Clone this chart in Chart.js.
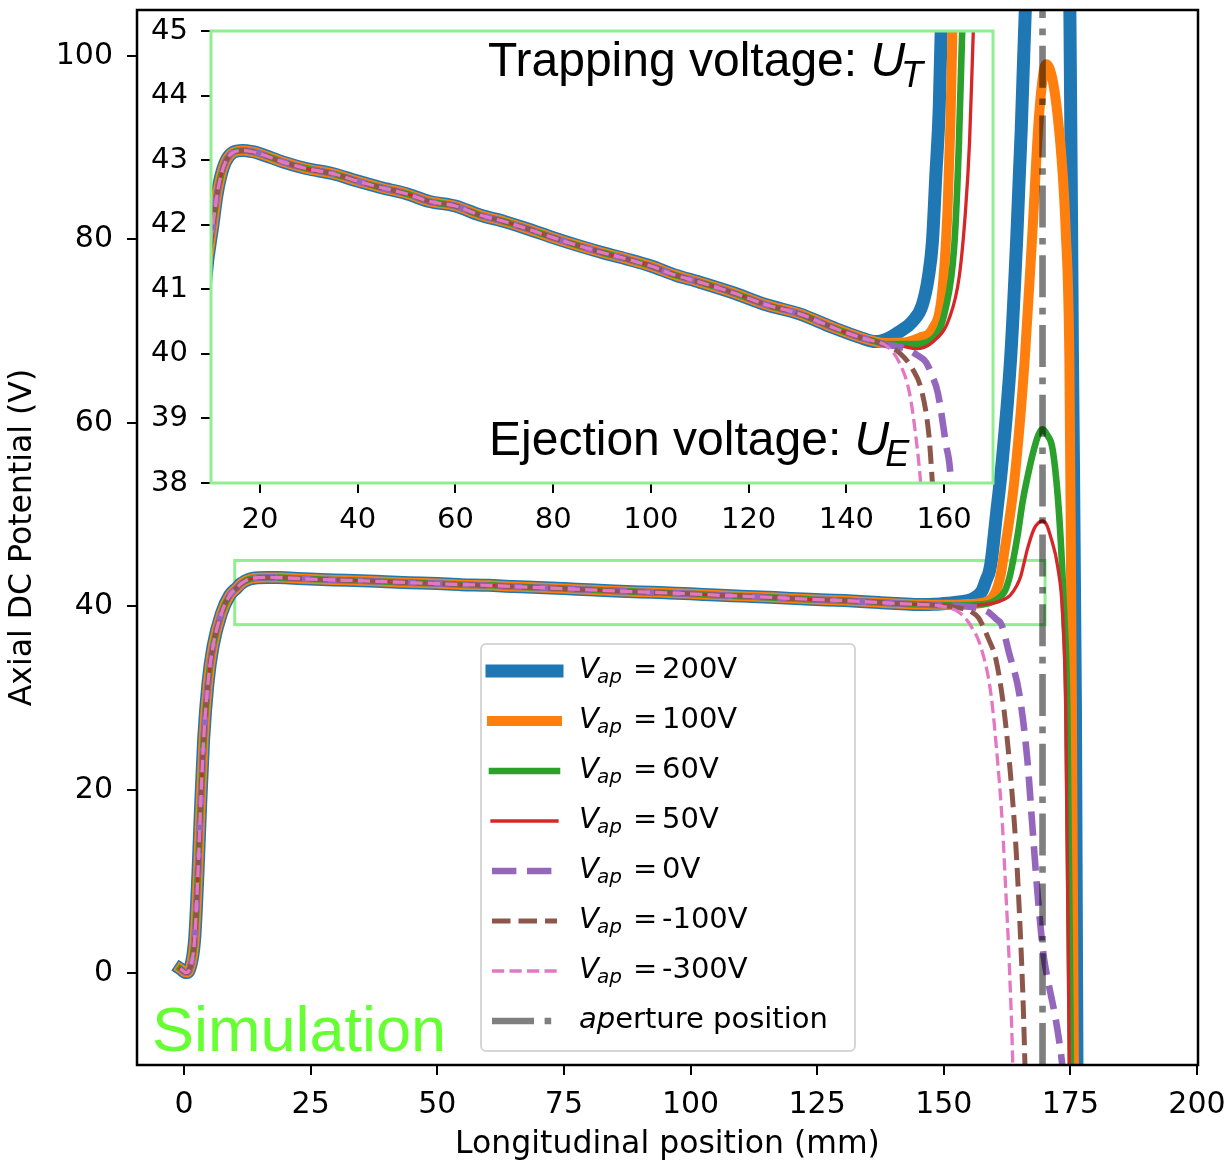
<!DOCTYPE html>
<html><head><meta charset="utf-8">
<script src="https://cdn.jsdelivr.net/npm/chart.js@4/dist/chart.umd.min.js"></script>
<style>
html,body{margin:0;padding:0;background:#fff;}
#wrap{position:relative;width:1231px;height:1166px;}
canvas{position:absolute;left:0;top:0;}
#inset{pointer-events:none;}
</style></head><body>
<div id="wrap"><canvas id="main" width="1231" height="1166"></canvas><canvas id="inset" width="1231" height="1166"></canvas></div>
<script>
// ---------------- data ----------------
const baseX = [-0.75, 0.43, 1.1, 2.08, 2.74, 3.26, 3.86, 4.71, 5.7, 7.35, 9.0, 10.4, 11.2, 12.0, 13.0, 14.5, 16.5, 18.5, 20, 24.8, 29.5, 35, 39.8, 44.5, 50, 54.7, 60, 65, 70, 75, 80, 85, 90, 95, 100, 105, 110, 116.7, 123.6, 130.4, 137.2, 142.6, 146];
const baseY = [0.5, 0.07, 0.45, 3.7, 10.96, 18.2, 25.5, 31.6, 35.6, 39.2, 41.2, 42.0, 42.45, 42.75, 42.98, 43.12, 43.15, 43.13, 43.1, 42.97, 42.87, 42.79, 42.68, 42.58, 42.48, 42.36, 42.29, 42.15, 42.05, 41.93, 41.8, 41.68, 41.57, 41.47, 41.36, 41.22, 41.11, 40.95, 40.76, 40.62, 40.41, 40.26, 40.19];

const tail200X = [148, 150.8, 153.5, 155.5, 156.8, 157.6, 158.3, 159.0, 159.4, 160.4, 161.4, 163.2, 164.4, 165.3, 166.1, 170.4, 174.9, 175.4, 176.0, 176.3, 176.5];
const tail200Y = [40.22, 40.34, 40.5, 40.75, 41.2, 41.73, 42.76, 43.8, 45.0, 50, 55, 67, 80, 92, 105, 150, 105, 68, 29, -10, -20];

const tail100X = [148, 152.2, 155, 157.6, 159.6, 160.7, 161.3, 161.7, 163.9, 166.0, 167.5, 168.8, 170.2, 172.5, 174.1, 174.8, 175.1, 175.3, 175.7, 175.8];
const tail100Y = [40.17, 40.18, 40.25, 40.38, 40.95, 42.24, 43.6, 45, 53.5, 67, 80.7, 93.4, 99.1, 93.4, 80.7, 67, 46, 29, -10, -15];

const tail60X = [148, 153.5, 157.6, 160.3, 162.1, 163.0, 163.7, 164.6, 165.6, 166.5, 167.8, 168.7, 169.5, 170.4, 171.5, 172.8, 173.8, 174.4, 175.1, 175.2];
const tail60Y = [40.15, 40.15, 40.23, 40.7, 41.7, 43.2, 45.0, 47.8, 51.5, 54.0, 57.1, 58.7, 59.3, 58.7, 57.1, 49.8, 38.9, 28.8, -10, -15];

const tail50X = [148, 150.8, 154.2, 157.6, 161, 163.1, 164.4, 165.2, 165.8, 166.5, 167.8, 168.7, 169.5, 170.3, 171.1, 172.5, 173.5, 174.1, 174.8, 174.9];
const tail50Y = [40.15, 40.13, 40.08, 40.18, 40.54, 41.2, 42.24, 43.28, 44.6, 46.2, 48.4, 49.1, 49.3, 48.9, 47.6, 44.3, 38.9, 28.7, -10, -15];

const tail0X = [148, 150, 152.2, 154.5, 156.3, 157.6, 158.7, 160.3, 161.4, 162.9, 164.9, 166.5, 167.5, 168.5, 169.3, 169.8, 170.5, 172.1, 173.1, 173.5];
const tail0Y = [40.14, 40.12, 40.08, 39.98, 39.87, 39.65, 39.4, 38.63, 38.0, 34.9, 30.5, 23.3, 16.0, 8.8, 4.0, 1.6, -0.6, -5.0, -8.6, -10.5];

const tailM100X = [148.5, 150.8, 153.5, 155.5, 156.9, 157.6, 158.8, 160.3, 161.9, 163.2, 164.2, 164.9, 165.6, 166.0, 166.1];
const tailM100Y = [40.12, 40.02, 39.77, 39.4, 38.73, 38.0, 36.5, 34.2, 28.7, 21.5, 14.2, 7.0, -2.1, -9.4, -12];

const tailM300X = [148.1, 150.8, 152.9, 154.2, 155.2, 157.3, 159.3, 160.6, 161.6, 162.2, 162.9, 163.6, 163.7];
const tailM300Y = [40.13, 39.87, 39.4, 38.73, 38.0, 35.6, 30.5, 23.3, 16.0, 9.5, 1.5, -9.4, -12];

const seriesLabels = ['200V', '100V', '60V', '50V', '0V', '-100V', '-300V'];
const apertureX = 169.5;
const apertureLabel = 'aperture position';

const xTicksMain = [0, 25, 50, 75, 100, 125, 150, 175, 200];
const yTicksMain = [0, 20, 40, 60, 80, 100];
const xTicksInset = [20, 40, 60, 80, 100, 120, 140, 160];
const yTicksInset = [38, 39, 40, 41, 42, 43, 44, 45];
const insetXRange = [10, 170];
const insetYRange = [38, 45];

// ---------------- styles ----------------
const styles = [
  {color: '#1f77b4', width: 13, dash: []},
  {color: '#ff7f0e', width: 10, dash: []},
  {color: '#2ca02c', width: 6.6, dash: []},
  {color: '#d62728', width: 3.3, dash: []},
  {color: '#9467bd', width: 6.6, dash: [24.4, 10.6]},
  {color: '#8c564b', width: 5, dash: [18.5, 8]},
  {color: '#e377c2', width: 3.3, dash: [12.2, 5.3]}
];
const apStyle = {color: 'rgba(0,0,0,0.5)', width: 6.6, dash: [42, 10.6, 6.6, 10.6]};
const FONT = "'DejaVu Sans'";
Chart.defaults.font.family = FONT;
Chart.defaults.color = '#000';

const tails = [[tail200X, tail200Y], [tail100X, tail100Y], [tail60X, tail60Y], [tail50X, tail50Y], [tail0X, tail0Y], [tailM100X, tailM100Y], [tailM300X, tailM300Y]];
function series(tx, ty) {
  const pts = baseX.map((x, i) => ({x: x, y: baseY[i]}));
  tx.forEach((x, i) => pts.push({x: x, y: ty[i]}));
  return pts;
}
function makeDatasets(withAperture) {
  const ds = tails.map((t, i) => ({
    label: seriesLabels[i],
    data: series(t[0], t[1]),
    borderColor: styles[i].color,
    borderWidth: styles[i].width,
    borderDash: styles[i].dash,
    borderCapStyle: styles[i].dash.length ? 'butt' : 'square',
    borderJoinStyle: 'round',
    pointRadius: 0,
    showLine: true,
    fill: false,
    cubicInterpolationMode: 'monotone',
    clip: 0,
    order: 10 - i
  }));
  if (withAperture) {
    ds.push({
      label: apertureLabel,
      data: [{x: apertureX, y: -10}, {x: apertureX, y: 105}],
      borderColor: apStyle.color, borderWidth: apStyle.width, borderDash: apStyle.dash,
      borderCapStyle: 'butt', pointRadius: 0, showLine: true, fill: false, tension: 0, clip: 0, order: 0
    });
  }
  return ds;
}

function noPad(s) { s.paddingTop = 0; s.paddingBottom = 0; s.paddingLeft = 0; s.paddingRight = 0; }
function axisCommon(ticksArr, fontSize, pad) {
  return {
    type: 'linear',
    afterBuildTicks: s => { s.ticks = ticksArr.map(v => ({value: v})); },
    grid: {display: true, drawOnChartArea: false, drawTicks: true, tickLength: 10, tickWidth: 2, lineWidth: 2, tickColor: '#000', color: '#000'},
    border: {display: false},
    ticks: {font: {size: fontSize}, color: '#000', padding: pad, maxRotation: 0, autoSkip: false, callback: v => String(v)}
  };
}

// ---------------- main chart ----------------
const mainPlugin = {
  id: 'mainDecor',
  beforeDatasetsDraw(chart) {
    const ctx = chart.ctx, xs = chart.scales.x, ys = chart.scales.y;
    ctx.save();
    ctx.strokeStyle = '#90ee90';
    ctx.lineWidth = 3;
    const x0 = xs.getPixelForValue(insetXRange[0]), x1 = xs.getPixelForValue(insetXRange[1]);
    const y0 = ys.getPixelForValue(insetYRange[1]), y1 = ys.getPixelForValue(insetYRange[0]);
    ctx.strokeRect(x0, y0, x1 - x0, y1 - y0);
    ctx.restore();
  },
  afterDatasetsDraw(chart) {
    const ctx = chart.ctx, a = chart.chartArea;
    ctx.save();
    ctx.strokeStyle = '#000';
    ctx.lineWidth = 2.5;
    ctx.strokeRect(a.left, a.top, a.right - a.left, a.bottom - a.top);
    // Simulation label
    ctx.fillStyle = '#66ff33';
    ctx.font = "63px 'Liberation Sans'";
    ctx.textBaseline = 'alphabetic';
    ctx.textAlign = 'left';
    ctx.fillText('Simulation', 152, 1051);
    // legend
    const bx0 = 481, by0 = 644, bx1 = 855, by1 = 1051, r = 5;
    ctx.beginPath();
    ctx.moveTo(bx0 + r, by0);
    ctx.arcTo(bx1, by0, bx1, by1, r);
    ctx.arcTo(bx1, by1, bx0, by1, r);
    ctx.arcTo(bx0, by1, bx0, by0, r);
    ctx.arcTo(bx0, by0, bx1, by0, r);
    ctx.closePath();
    ctx.fillStyle = 'rgba(255,255,255,0.8)';
    ctx.fill();
    ctx.strokeStyle = 'rgba(204,204,204,0.8)';
    ctx.lineWidth = 2;
    ctx.stroke();
    const entries = styles.map((s, i) => ({s: s, label: seriesLabels[i]}));
    entries.push({s: apStyle, label: null});
    entries.forEach((e, i) => {
      const cy = 671 + i * 50;
      ctx.save();
      ctx.strokeStyle = e.s.color;
      ctx.lineWidth = e.s.width;
      ctx.setLineDash(e.s.dash);
      ctx.lineCap = e.s.dash.length ? 'butt' : 'square';
      ctx.beginPath();
      ctx.moveTo(492, cy);
      ctx.lineTo(557, cy);
      ctx.stroke();
      ctx.restore();
      const bl = cy + 6.5;
      ctx.fillStyle = '#000';
      ctx.textAlign = 'left';
      ctx.textBaseline = 'alphabetic';
      if (e.label !== null) {
        ctx.font = "italic 29px " + FONT;
        ctx.fillText('V', 579, bl);
        ctx.font = "italic 20px " + FONT;
        ctx.fillText('ap', 597, bl + 5.5);
        ctx.font = "29px " + FONT;
        ctx.fillText('=', 633, bl);
        ctx.fillText(e.label, 662, bl);
      } else {
        ctx.font = "italic 29px " + FONT;
        ctx.fillText('ap', 579, bl);
        const w = ctx.measureText('ap').width;
        ctx.font = "29px " + FONT;
        ctx.fillText('erture position', 579 + w, bl);
      }
    });
    ctx.restore();
  }
};

const xMain = Object.assign(axisCommon(xTicksMain, 30, 12), {
  min: -9.3, max: 200.2, position: 'bottom',
  afterFit: s => { s.height = 101; noPad(s); },
  title: {display: true, text: 'Longitudinal position (mm)', font: {size: 31.5}, color: '#000', padding: {top: 0, bottom: 2}}
});
const yMain = Object.assign(axisCommon(yTicksMain, 30, 14), {
  min: -10, max: 105, position: 'left',
  afterFit: s => { s.width = 137; noPad(s); },
  title: {display: true, text: 'Axial DC Potential (V)', font: {size: 31.5}, color: '#000', padding: {top: 4, bottom: 0}}
});

new Chart(document.getElementById('main'), {
  type: 'scatter',
  data: {datasets: makeDatasets(true)},
  options: {
    responsive: false, animation: false, devicePixelRatio: 1,
    layout: {padding: {top: 10, right: 33, left: 0, bottom: 0}},
    plugins: {legend: {display: false}, tooltip: {enabled: false}},
    scales: {x: xMain, y: yMain}
  },
  plugins: [mainPlugin]
});

// ---------------- inset chart ----------------
const insetPlugin = {
  id: 'insetDecor',
  beforeDatasetsDraw(chart) {
    const ctx = chart.ctx, a = chart.chartArea;
    ctx.save();
    ctx.fillStyle = '#fff';
    ctx.fillRect(a.left, a.top, a.right - a.left, a.bottom - a.top);
    ctx.restore();
  },
  afterDatasetsDraw(chart) {
    const ctx = chart.ctx, a = chart.chartArea;
    ctx.save();
    ctx.strokeStyle = '#90ee90';
    ctx.lineWidth = 3;
    ctx.strokeRect(a.left, a.top, a.right - a.left, a.bottom - a.top);
    ctx.fillStyle = '#000';
    ctx.textAlign = 'left';
    ctx.textBaseline = 'alphabetic';
    const lines = [['Trapping voltage: ', 'T', 488, 76], ['Ejection voltage: ', 'E', 489, 455]];
    lines.forEach(l => {
      ctx.font = "48px 'Liberation Sans'";
      ctx.fillText(l[0], l[2], l[3]);
      const w = ctx.measureText(l[0]).width;
      ctx.font = "italic 48px 'Liberation Sans'";
      ctx.fillText('U', l[2] + w, l[3]);
      const wu = ctx.measureText('U').width;
      ctx.font = "italic 36px 'Liberation Sans'";
      ctx.fillText(l[1], l[2] + w + wu - 4, l[3] + 11);
    });
    ctx.restore();
  }
};

const xInset = Object.assign(axisCommon(xTicksInset, 29, 10), {
  min: insetXRange[0], max: insetXRange[1], position: 'bottom',
  afterFit: s => { s.height = 60; noPad(s); }
});
const yInset = Object.assign(axisCommon(yTicksInset, 29, 13), {
  min: insetYRange[0], max: insetYRange[1], position: 'left',
  afterFit: s => { s.width = 211; noPad(s); }
});

new Chart(document.getElementById('inset'), {
  type: 'scatter',
  data: {datasets: makeDatasets(false)},
  options: {
    responsive: false, animation: false, devicePixelRatio: 1,
    layout: {padding: {top: 31, right: 238, left: 0, bottom: 1166 - 483 - 60}},
    plugins: {legend: {display: false}, tooltip: {enabled: false}},
    scales: {x: xInset, y: yInset}
  },
  plugins: [insetPlugin]
});
</script>
</body></html>
